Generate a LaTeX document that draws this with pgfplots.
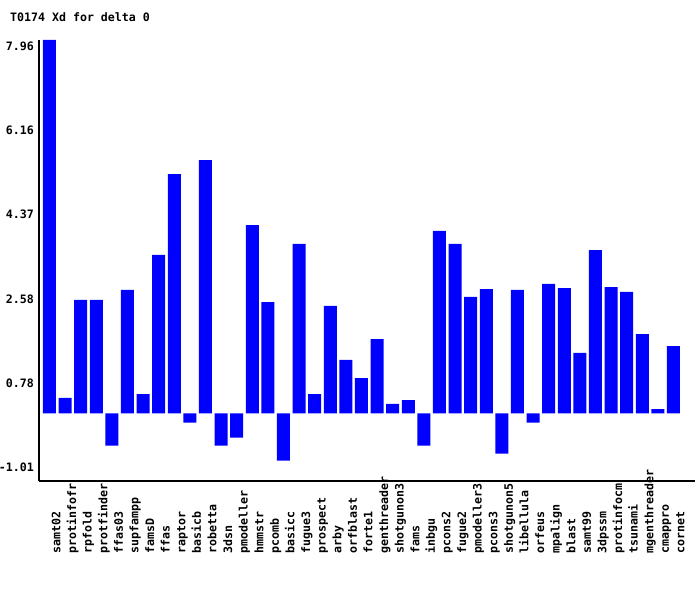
\documentclass[border=0pt]{standalone}
\usepackage{fontspec}
\setmonofont{DejaVu Sans Mono}
\usepackage{pgfplots}
\pgfplotsset{compat=1.18}
\begin{document}
\begin{tikzpicture}
\begin{axis}[
  at={(39bp,109bp)}, anchor=south west,
  scale only axis, width=656bp, height=441bp,
  xmin=-0.673, xmax=41.38, ymin=-1.444, ymax=7.96,
  axis lines*=left,
  axis line style={line width=2bp, black},
  ybar, bar width=13bp,
  xtick={0,...,40},
  xticklabels={samt02,protinfofr,rpfold,protfinder,ffas03,supfampp,famsD,ffas,raptor,basicb,robetta,3dsn,pmodeller,hmmstr,pcomb,basicc,fugue3,prospect,arby,orfblast,forte1,genthreader,shotgunon3,fams,inbgu,pcons2,fugue2,pmodeller3,pcons3,shotgunon5,libellula,orfeus,mpalign,blast,samt99,3dpssm,protinfocm,tsunami,mgenthreader,cmappro,cornet},
  ytick={-1.01,0.784,2.578,4.372,6.166,7.96},
  yticklabels={-1.01,0.78,2.58,4.37,6.16,7.96},
  major tick length=0pt,
  tick style={draw=none},
  ticklabel style={font=\ttfamily\bfseries\fontsize{11.6bp}{13bp}\selectfont, inner sep=0pt},
  xticklabel style={xshift=11bp, yshift=-73bp, rotate=90, anchor=base west},
  yticklabel style={anchor=east, xshift=-5bp, yshift=-6.5bp},
  title={T0174 Xd for delta 0},
  title style={at={(-0.0442,1.0385)}, anchor=west, inner sep=0pt, font=\ttfamily\bfseries\fontsize{11.6bp}{13bp}\selectfont},
]
\addplot[fill=blue, draw=none] coordinates {
(0,7.96) (1,0.33) (2,2.42) (3,2.42) (4,-0.69) (5,2.63) (6,0.41) (7,3.38) (8,5.10) (9,-0.20)
(10,5.40) (11,-0.69) (12,-0.52) (13,4.01) (14,2.37) (15,-1.01) (16,3.61) (17,0.41) (18,2.29) (19,1.14)
(20,0.75) (21,1.58) (22,0.20) (23,0.28) (24,-0.69) (25,3.89) (26,3.61) (27,2.48) (28,2.65) (29,-0.86)
(30,2.63) (31,-0.20) (32,2.76) (33,2.67) (34,1.29) (35,3.48) (36,2.69) (37,2.59) (38,1.69) (39,0.09)
(40,1.43)
};
\end{axis}
\pgfresetboundingbox
\path[use as bounding box] (0,0) rectangle (700bp,590bp);
\end{tikzpicture}
\end{document}
